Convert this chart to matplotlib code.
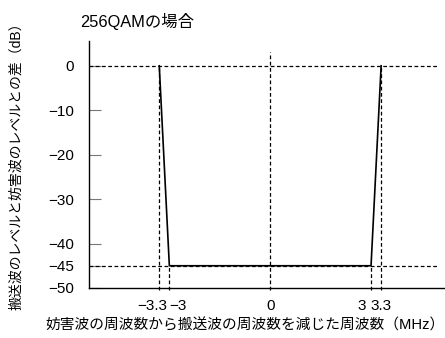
import matplotlib
matplotlib.use("Agg")
import matplotlib.pyplot as plt
from matplotlib.transforms import ScaledTranslation

plt.rcParams['font.family'] = ['Liberation Sans', 'Noto Sans CJK JP', 'DejaVu Sans']

# attenuation mask: interferer freq offset (MHz) vs level difference (dB)
freq = [-3.3, -3, 3, 3.3]
level = [0, -45, -45, 0]

xticks = [-3.3, -3, 0, 3, 3.3]
xticklabels = ['−3.3', '−3', '0', '3', '3.3']
yticks = [0, -10, -20, -30, -40, -45, -50]

fig = plt.figure(figsize=(4.45, 3.38), dpi=100)
ax = fig.add_axes([0.2, 0.148, 0.8, 0.731])

ax.set_xlim(-5.39, 5.2)
ax.set_ylim(-50, 5.6)

dash = dict(color='black', lw=0.9, ls=(0, (3, 2)), clip_on=False)
# horizontal guide lines
for yv in [0, -45]:
    ax.plot([-5.39, 5.0], [yv, yv], **dash)
# vertical guide lines
ax.plot([0, 0], [-50.5, 3.0], **dash)
ax.plot([-3.3, -3.3], [-50.5, 0], **dash)
ax.plot([3.3, 3.3], [-50.5, 0], **dash)
ax.plot([-3, -3], [-50.5, -45], **dash)
ax.plot([3, 3], [-50.5, -45], **dash)

ax.plot(freq, level, color='black', lw=1.2)

for s in ['top', 'right']:
    ax.spines[s].set_visible(False)
ax.spines['left'].set_linewidth(1.0)
ax.spines['bottom'].set_linewidth(1.0)

ax.set_yticks(yticks)
ax.set_yticklabels([str(v).replace('-', '−') for v in yticks])
ax.set_xticks(xticks)
ax.set_xticklabels(xticklabels)
ax.tick_params(axis='y', direction='in', length=8.6, width=0.8, color='#777777',
               labelsize=11, pad=11)
ax.tick_params(axis='x', length=0, labelsize=11, pad=8)

# nudge the crowded x labels apart (pixels)
shifts = [-7, 9, 0, -9, 0]
for lab, dx in zip(ax.get_xticklabels(), shifts):
    lab.set_transform(lab.get_transform() + ScaledTranslation(dx / 100, 0, fig.dpi_scale_trans))

fig.text(0.18, 0.935, '256QAMの場合', fontsize=11.8, va='center')
fig.text(0.037, 0.518, '搬送波のレベルと妨害波のレベルとの差（dB）', rotation=90,
         fontsize=10, ha='center', va='center')
fig.text(0.551, 0.036, '妨害波の周波数から搬送波の周波数を減じた周波数（MHz）',
         fontsize=10.6, ha='center', va='center')

fig.savefig('out.png', dpi=100)
